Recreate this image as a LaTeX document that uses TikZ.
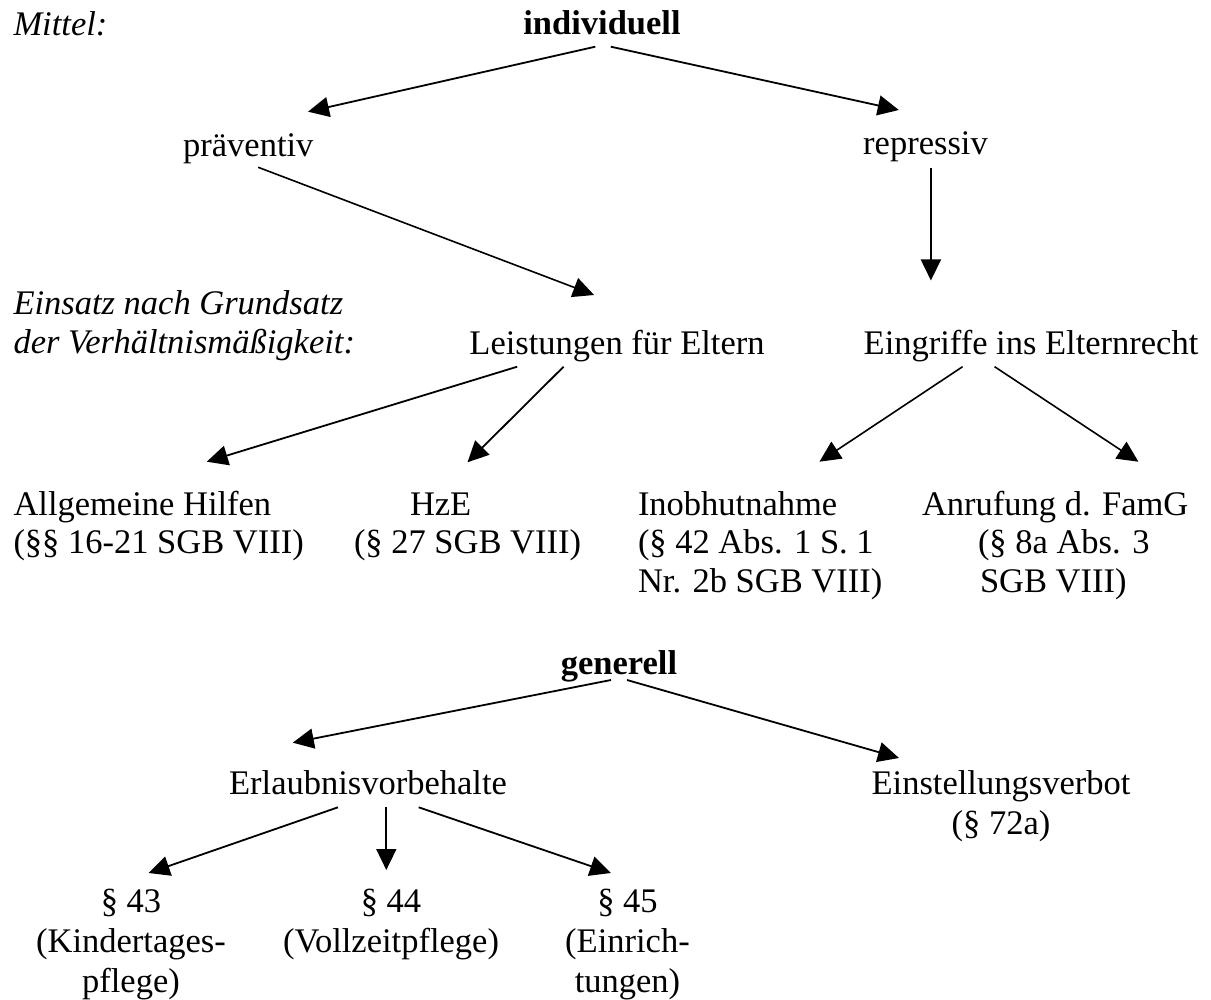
\documentclass[tikz,border=0pt]{standalone}
\usepackage{fontspec}
\setmainfont{Liberation Serif}
\usetikzlibrary{arrows.meta}
\begin{document}
\begin{tikzpicture}[x=1pt,y=-1pt,
  lbl/.style={inner sep=0pt, outer sep=0pt, font=\fontsize{34.5}{38.5}\selectfont},
  lblb/.style={inner sep=0pt, outer sep=0pt, font=\fontsize{34.5}{40}\selectfont},
  arr/.style={line width=1.8pt, -{Triangle[length=21pt,width=20pt]}},
  arrthin/.style={line width=1.6pt, -{Triangle[length=21pt,width=20pt]}}]
\useasboundingbox[fill=white] (0,0) rectangle (1211,1000);

% top section
\node[lbl, anchor=base west] (mittel) at (13.5,35.7) {\itshape Mittel:};
\node[lbl, anchor=base] (indiv) at (602,35) {\bfseries individuell};
\node[lbl, anchor=base] (prae) at (248.3,156.7) {präventiv};
\node[lbl, anchor=base] (repr) at (925.5,155) {repressiv};
\node[lbl, anchor=base west] (einsatz) at (13.5,315)
  {\itshape\begin{tabular}[t]{@{}l@{}}Einsatz nach Grundsatz\\der Verhältnismäßigkeit:\end{tabular}};
\node[lbl, anchor=base] (leist) at (617,355) {Leistungen für Eltern};
\node[lbl, anchor=base] (eingr) at (1031,355) {Eingriffe ins Elternrecht};

\node[lbl, anchor=base west] (allg) at (13.5,515)
  {\begin{tabular}[t]{@{}l@{}}Allgemeine Hilfen\\(§§ 16-21 SGB VIII)\end{tabular}};
\node[lbl, anchor=base west] (hze) at (354,515)
  {\begin{tabular}[t]{@{}l@{}}\hspace*{56pt}HzE\\(§ 27 SGB VIII)\end{tabular}};
\node[lbl, anchor=base west] (inob) at (638,515)
  {\begin{tabular}[t]{@{}l@{}}Inobhutnahme\\(§ 42 Abs. 1 S. 1\\Nr. 2b SGB VIII)\end{tabular}};
\node[lbl, anchor=base west] (anruf) at (922,515)
  {\begin{tabular}[t]{@{}l@{}}Anrufung d. FamG\\\hspace*{56pt}(§ 8a Abs. 3\\\hspace*{58pt}SGB VIII)\end{tabular}};

% bottom section
\node[lbl, anchor=base] (gen) at (619,674) {\bfseries generell};
\node[lbl, anchor=base] (erl) at (368,794) {Erlaubnisvorbehalte};
\node[lblb, anchor=base] (einst) at (1001,794)
  {\begin{tabular}[t]{@{}c@{}}Einstellungsverbot\\(§ 72a)\end{tabular}};
\node[lblb, anchor=base] (p43) at (131,912)
  {\begin{tabular}[t]{@{}c@{}}§ 43\\(Kindertages-\\pflege)\end{tabular}};
\node[lblb, anchor=base] (p44) at (391,912)
  {\begin{tabular}[t]{@{}c@{}}§ 44\\(Vollzeitpflege)\end{tabular}};
\node[lblb, anchor=base] (p45) at (627.5,912)
  {\begin{tabular}[t]{@{}c@{}}§ 45\\(Einrich-\\tungen)\end{tabular}};

% connectors
\draw[arr] ([shift={(-6.7,11.7)}]indiv.base) -- ([shift={(59.7,-45)}]prae.base);
\draw[arr] ([shift={(8.8,11.7)}]indiv.base) -- ([shift={(-26.7,-45)}]repr.base);
\draw[arrthin] ([shift={(9.9,10.6)}]prae.base) -- ([shift={(-22.9,-60)}]leist.base);
\draw[arr] ([shift={(5.4,13.3)}]repr.base) -- ([shift={(-100.1,-74.5)}]eingr.base);
\draw[arr] ([shift={(-99.8,11.7)}]leist.base) -- ([shift={(193.3,-53.3)}]allg.base west);
\draw[arr] ([shift={(-53.4,11.7)}]leist.base) -- ([shift={(113.5,-52.7)}]hze.base west);
\draw[arrthin] ([shift={(-68.4,11.7)}]eingr.base) -- ([shift={(181.5,-53.3)}]inob.base west);
\draw[arrthin] ([shift={(-36.4,11.7)}]eingr.base) -- ([shift={(216.4,-53.3)}]anruf.base west);
\draw[arr] ([shift={(-8,6)}]gen.base) -- ([shift={(-75.2,-51.3)}]erl.base);
\draw[arr] ([shift={(8,6)}]gen.base) -- ([shift={(-102,-36)}]einst.base);
\draw[arr] ([shift={(-30,13.3)}]erl.base) -- ([shift={(17.6,-39)}]p43.base);
\draw[arr] ([shift={(18.3,12.7)}]erl.base) -- ([shift={(-4.7,-42)}]p44.base);
\draw[arr] ([shift={(50.7,13.3)}]erl.base) -- ([shift={(-16.5,-39)}]p45.base);
\end{tikzpicture}
\end{document}
